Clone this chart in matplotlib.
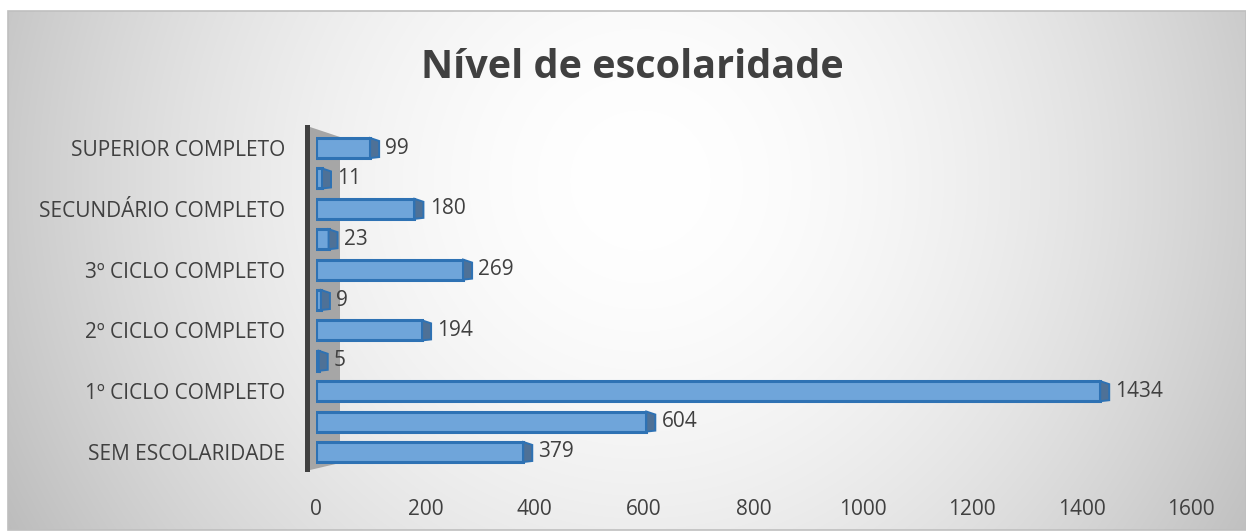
import numpy as np
import matplotlib
matplotlib.use("Agg")
import matplotlib.pyplot as plt
from matplotlib.patches import Polygon, Rectangle

# data (bottom to top, as in the chart)
categories = ["SEM ESCOLARIDADE", "1º CICLO INCOMPLETO", "1º CICLO COMPLETO",
              "2º CICLO INCOMPLETO", "2º CICLO COMPLETO", "3º CICLO INCOMPLETO",
              "3º CICLO COMPLETO", "SECUNDÁRIO INCOMPLETO", "SECUNDÁRIO COMPLETO",
              "SUPERIOR INCOMPLETO", "SUPERIOR COMPLETO"]
values = [379, 604, 1434, 5, 194, 9, 269, 23, 180, 11, 99]
x_ticks = [0, 200, 400, 600, 800, 1000, 1200, 1400, 1600]

# excel only had room for every second label
shown = [c if i % 2 == 0 else "" for i, c in enumerate(categories)]

plt.rcParams['font.family'] = ['Open Sans', 'DejaVu Sans']
TXT = '#404040'

W, H = 1246, 531
fig = plt.figure(figsize=(W / 100, H / 100), dpi=100)
fig.patch.set_facecolor('white')

# background panel with radial gradient (pixel coords)
bg = fig.add_axes([0, 0, 1, 1], zorder=-10)
bg.set_xlim(0, W)
bg.set_ylim(H, 0)
bg.axis('off')
yy, xx = np.mgrid[11:530, 8:W]
d = np.hypot(xx - 640, yy - 180)
shade = 1 - 0.26 * np.clip(d / 720, 0, 1) ** 1.8
bg.imshow(np.dstack([shade] * 3), extent=(8, W, 530, 11), aspect='auto', interpolation='bilinear')
bg.add_patch(Rectangle((8, 11), W - 8, 519, fill=False, edgecolor='#bfbfbf', lw=1.2))

# 3d side wall
bg.add_patch(Polygon([(310, 127), (340, 137), (340, 463), (310, 470)], closed=True,
                     facecolor='#a6a6a6', edgecolor='none'))
bg.add_patch(Rectangle((305, 125), 5, 347, facecolor='#404040', edgecolor='none'))

ax = fig.add_axes([316 / W, 1 - 470.2 / H, 875 / W, 340.4 / H])
ax.patch.set_alpha(0)
ax.set_xlim(0, 1600)
ax.set_ylim(-0.6, 10.6)

y = np.arange(len(values))
h = 0.66
ax.barh(y, values, height=h, color='#6fa5da', edgecolor='#2e72b4', lw=2.2, zorder=3)

# pixel -> data units for the fake depth
p0 = ax.transData.transform((0, 0))
p1 = ax.transData.transform((1, 1))
sx, sy = p1 - p0
dx = 9 / sx
for v, yi in zip(values, y):
    side = [(v, yi + h / 2), (v + dx, yi + h / 2 - 3 / sy),
            (v + dx, yi - h / 2 + 1 / sy), (v, yi - h / 2)]
    ax.add_patch(Polygon(side, closed=True, facecolor='#4e7197', edgecolor='#2e72b4',
                         lw=1.4, zorder=4))
    ax.annotate(str(v), (v, yi), xytext=(11, 0), textcoords='offset points',
                va='center', ha='left', fontsize=15, color=TXT)

ax.set_yticks(y)
ax.set_yticklabels(shown)
ax.set_xticks(x_ticks)
ax.tick_params(axis='y', length=0, pad=22, labelsize=15, labelcolor=TXT)
ax.tick_params(axis='x', length=0, pad=21, labelsize=15, labelcolor=TXT)
for s in ax.spines.values():
    s.set_visible(False)

fig.text(632 / W, 1 - 78 / H, 'Nível de escolaridade', ha='center', va='baseline',
         fontsize=28.5, fontweight='bold', color=TXT)

fig.savefig('out.png', dpi=100)
